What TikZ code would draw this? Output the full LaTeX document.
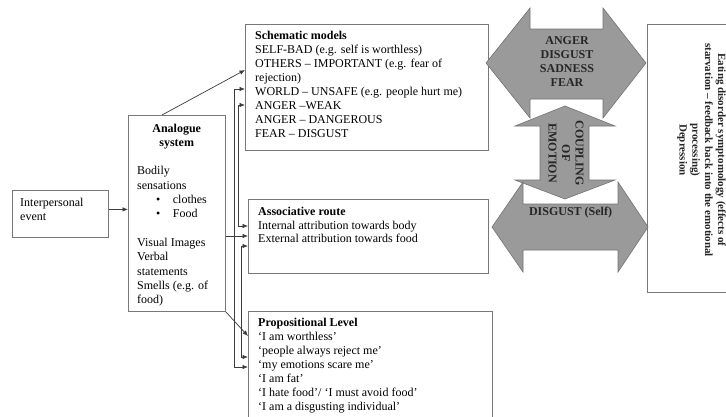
\documentclass[tikz,border=0pt]{standalone}
\usepackage{fontspec}
\setmainfont{Liberation Serif}
\usetikzlibrary{arrows.meta}
\definecolor{boxline}{RGB}{120,120,120}
\definecolor{linkline}{RGB}{60,60,60}
\definecolor{emofill}{RGB}{154,154,154}
\definecolor{emoedge}{RGB}{115,115,115}
\begin{document}
\begin{tikzpicture}[x=1pt,y=-1pt,
  box/.style={draw=boxline, line width=0.8pt, anchor=north west, inner sep=0pt},
  txt/.style={anchor=north west, inner sep=0pt, align=left, font=\fontsize{12}{14}\selectfont},
  link/.style={draw=linkline, line width=0.7pt, -{Latex[length=5.5pt,width=4.5pt]}},
  twoway/.style={draw=linkline, line width=0.7pt, {Latex[length=5.5pt,width=4.5pt]}-{Latex[length=5.5pt,width=4.5pt]}},
  emo/.style={fill=emofill, draw=emoedge, line width=0.6pt},
  emotxt/.style={inner sep=0pt, align=center, font=\fontsize{12}{14.3}\selectfont\bfseries, text=black!85}
]
\useasboundingbox (0,0) rectangle (726,416);
\clip (0,0) rectangle (726,416);
\fill[white] (0,0) rectangle (726,416);

% boxes
\node[box, minimum width=96pt, minimum height=47pt] (ie) at (12,190) {};
\node[box, minimum width=97pt, minimum height=196pt] (an) at (128,115) {};
\node[box, minimum width=243pt, minimum height=126pt] (sm) at (245,24) {};
\node[box, minimum width=240pt, minimum height=74pt] (as) at (248,199) {};
\node[box, minimum width=244pt, minimum height=130pt] (pr) at (248,311) {};
\node[box, minimum width=100pt, minimum height=268pt] (ed) at (647,24) {};

% box texts
\node[txt] (ietxt) at (20,196.7) {\strut Interpersonal\\event};
\node[txt, anchor=north, align=center, font=\fontsize{12}{14.5}\selectfont\bfseries] (antitle) at (176.7,121.7) {\strut Analogue\\system};
\node[txt, font=\fontsize{12}{14.3}\selectfont] (anbody) at (137,164.7) {\strut Bodily\\sensations\\
  \hspace*{19pt}\textbullet\hspace*{12.5pt}clothes\\
  \hspace*{19pt}\textbullet\hspace*{12.5pt}Food\\[14.3pt]
  Visual Images\\Verbal\\statements\\Smells (e.g. of\\food)};
\node[txt] (smtxt) at (255,29.7) {\strut\textbf{Schematic models}\\
  SELF-BAD (e.g. self is worthless)\\
  OTHERS – IMPORTANT (e.g. fear of\\
  rejection)\\
  WORLD – UNSAFE (e.g. people hurt me)\\
  ANGER –WEAK\\
  ANGER – DANGEROUS\\
  FEAR – DISGUST};
\node[txt, font=\fontsize{12}{13.4}\selectfont] (astxt) at (258,206.4) {\strut\textbf{Associative route}\\
  Internal attribution towards body\\
  External attribution towards food};
\node[txt] (prtxt) at (258,316.4) {\strut\textbf{Propositional Level}\\
  ‘I am worthless’\\
  ‘people always reject me’\\
  ‘my emotions scare me’\\
  ‘I am fat’\\
  ‘I hate food’/ ‘I must avoid food’\\
  ‘I am a disgusting individual’};
\node[inner sep=0pt, align=center, rotate=-90, font=\fontsize{11}{12.8}\selectfont\bfseries, text=black!85] (edtxt) at (701.5,150)
  {Eating disorder symptomology (effects of\\starvation – feedback back into the emotional\\processing)\\Depression};

% emotion arrows
\path[emo] (486,63) -- (530,8) -- (530,29) -- (603,29) -- (603,8) -- (646,63)
  -- (603,118) -- (603,99) -- (530,99) -- (530,118) -- cycle;
\path[emo] (565,106) -- (615,126) -- (589,126) -- (589,180) -- (615,180) -- (565,199)
  -- (515,180) -- (540,180) -- (540,126) -- (515,126) -- cycle;
\path[emo] (492,227) -- (523,182) -- (523,204) -- (618,204) -- (618,182) -- (648,227)
  -- (618,272) -- (618,250) -- (523,250) -- (523,272) -- cycle;
\node[emotxt] (emotop) at (567,61.5) {ANGER\\DISGUST\\SADNESS\\FEAR};
\node[emotxt, rotate=-90, font=\fontsize{12}{13.5}\selectfont\bfseries] (coupling) at (566,153) {COUPLING\\OF\\EMOTION};
\node[emotxt] (emobot) at (570.5,213) {DISGUST (Self)};

% connectors
\coordinate (ieout) at ([yshift=4.5pt]ie.east);
\draw[link] (ieout) -- (ieout -| an.west);
\draw[link] ([xshift=34pt]an.north west) -- ([yshift=-46pt]sm.north west);
\coordinate (anout) at ([yshift=-121pt]an.north east);
\draw[link] (anout) -- (anout -| as.west);
\draw[link] (an.south east) -- ([yshift=-25pt]pr.north west);
\draw[twoway] ([yshift=-65pt]sm.north west) -- ++(-11,0) |- ([yshift=-56pt]pr.north west);
\draw[twoway] ([yshift=-81pt]sm.north west) -- ++(-7,0) |- ([yshift=-27pt]as.north west);
\draw[twoway] ([yshift=-47pt]as.north west) -- ++(-7,0) |- ([yshift=-46pt]pr.north west);
\end{tikzpicture}
\end{document}
